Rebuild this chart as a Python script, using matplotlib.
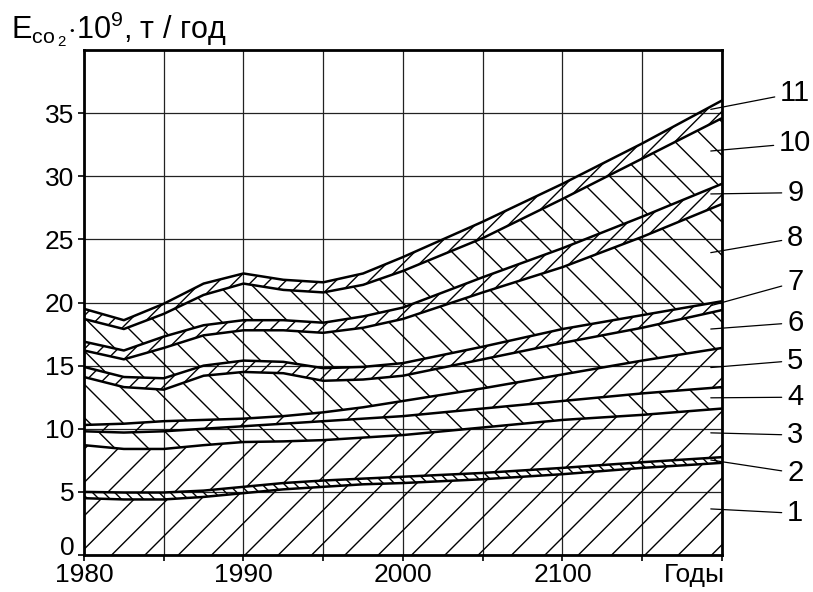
import matplotlib
matplotlib.use("Agg")
import matplotlib.pyplot as plt
from matplotlib.transforms import ScaledTranslation

plt.rcParams['font.family'] = ['Liberation Sans', 'DejaVu Sans']
plt.rcParams['mathtext.fontset'] = 'custom'
plt.rcParams['mathtext.rm'] = 'Liberation Sans'
plt.rcParams['hatch.linewidth'] = 1.0

# годы
years = [1980, 1982.5, 1985, 1987.5, 1990, 1992.5, 1995, 1997.5, 2000, 2005, 2010, 2015, 2020]

# верхние границы слоёв (накопленные), 10^9 т/год
top1 = [4.5, 4.4, 4.4, 4.6, 4.9, 5.2, 5.4, 5.6, 5.7, 6.0, 6.4, 6.9, 7.3]
top2 = [5.0, 4.95, 4.95, 5.1, 5.4, 5.7, 5.9, 6.05, 6.2, 6.5, 6.9, 7.35, 7.75]
top3 = [8.7, 8.4, 8.4, 8.7, 8.95, 9.0, 9.1, 9.3, 9.5, 10.1, 10.7, 11.1, 11.6]
top4 = [9.8, 9.7, 9.8, 10.0, 10.2, 10.4, 10.6, 10.8, 11.0, 11.6, 12.2, 12.8, 13.3]
top5 = [10.3, 10.4, 10.6, 10.7, 10.8, 11.0, 11.3, 11.7, 12.2, 13.2, 14.3, 15.4, 16.4]
top6 = [14.1, 13.3, 13.1, 14.2, 14.5, 14.4, 13.8, 13.9, 14.2, 15.5, 16.8, 18.0, 19.4]
top7 = [14.9, 14.1, 14.0, 15.0, 15.4, 15.3, 14.8, 14.9, 15.2, 16.5, 17.9, 19.0, 20.1]
top8 = [16.2, 15.5, 16.4, 17.4, 17.8, 17.8, 17.6, 18.0, 18.7, 20.8, 22.8, 25.2, 27.8]
top9 = [16.9, 16.2, 17.3, 18.2, 18.6, 18.6, 18.4, 18.9, 19.6, 22.0, 24.3, 26.8, 29.4]
top10 = [18.7, 17.9, 19.1, 20.6, 21.5, 21.0, 20.8, 21.4, 22.5, 25.1, 28.2, 31.4, 34.6]
top11 = [19.5, 18.6, 19.9, 21.5, 22.3, 21.8, 21.6, 22.3, 23.6, 26.4, 29.4, 32.6, 36.0]

layer_names = ['1', '2', '3', '4', '5', '6', '7', '8', '9', '10', '11']
x_tick_labels = ['1980', '', '1990', '', '2000', '', '2100', '', '']

tops = [top1, top2, top3, top4, top5, top6, top7, top8, top9, top10, top11]
hatches = ['/', '\\\\\\', '/', '\\', '/', '\\', '//', '\\', '//', '\\', '//']
label_y = [3.3, 6.5, 9.5, 12.5, 15.4, 18.4, 21.6, 25.1, 28.7, 32.6, 36.6]

fig = plt.figure(figsize=(8.13, 5.92), dpi=100)
ax = fig.add_axes([0.1033, 0.0625, 0.7847, 0.853])

lower = [0] * len(years)
for top, h in zip(tops, hatches):
    ax.fill_between(years, lower, top, facecolor='none', edgecolor='black',
                    hatch=h, linewidth=0, zorder=2)
    ax.plot(years, top, color='black', lw=1.8, zorder=3)
    lower = top

ax.set_xlim(1980, 2020)
ax.set_ylim(0, 40)
ax.set_xticks(range(1980, 2021, 5))
ax.set_xticklabels(x_tick_labels, fontsize=19)
ax.set_yticks(range(0, 36, 5))
ax.set_yticklabels([str(v) for v in range(0, 36, 5)], fontsize=19)
ax.tick_params(direction='out', length=4, width=1.2, pad=3)
ax.tick_params(axis='x', pad=2)
ax.grid(True, color='#222222', lw=0.9, zorder=1)
for s in ax.spines.values():
    s.set_linewidth(2)

# «0» чуть выше, чтобы не наезжать на «1980»
zero_lab = ax.get_yticklabels()[0]
zero_lab.set_transform(zero_lab.get_transform() +
                       ScaledTranslation(0, 7 / 72, fig.dpi_scale_trans))

ax.text(2018.3, -0.015, 'Годы', transform=ax.get_xaxis_transform(),
        ha='center', va='top', fontsize=19)

fig.text(0.014, 1 - 38 / 592, r'E$_{\mathrm{co}\,_2}$$\cdot$10$^9$, т / год',
         fontsize=22, ha='left', va='baseline')

# подписи слоёв
prev = [0] * len(years)
for name, top, ly in zip(layer_names, tops, label_y):
    mid = (prev[-1] + top[-1]) / 2
    ax.annotate(name, xy=(2019.3, mid), xytext=(2024.6, ly),
                textcoords='data', ha='center', va='center', fontsize=21,
                arrowprops=dict(arrowstyle='-', lw=0.9, color='black',
                                shrinkA=2, shrinkB=0),
                annotation_clip=False)
    prev = top

fig.savefig('out.png', dpi=100)
